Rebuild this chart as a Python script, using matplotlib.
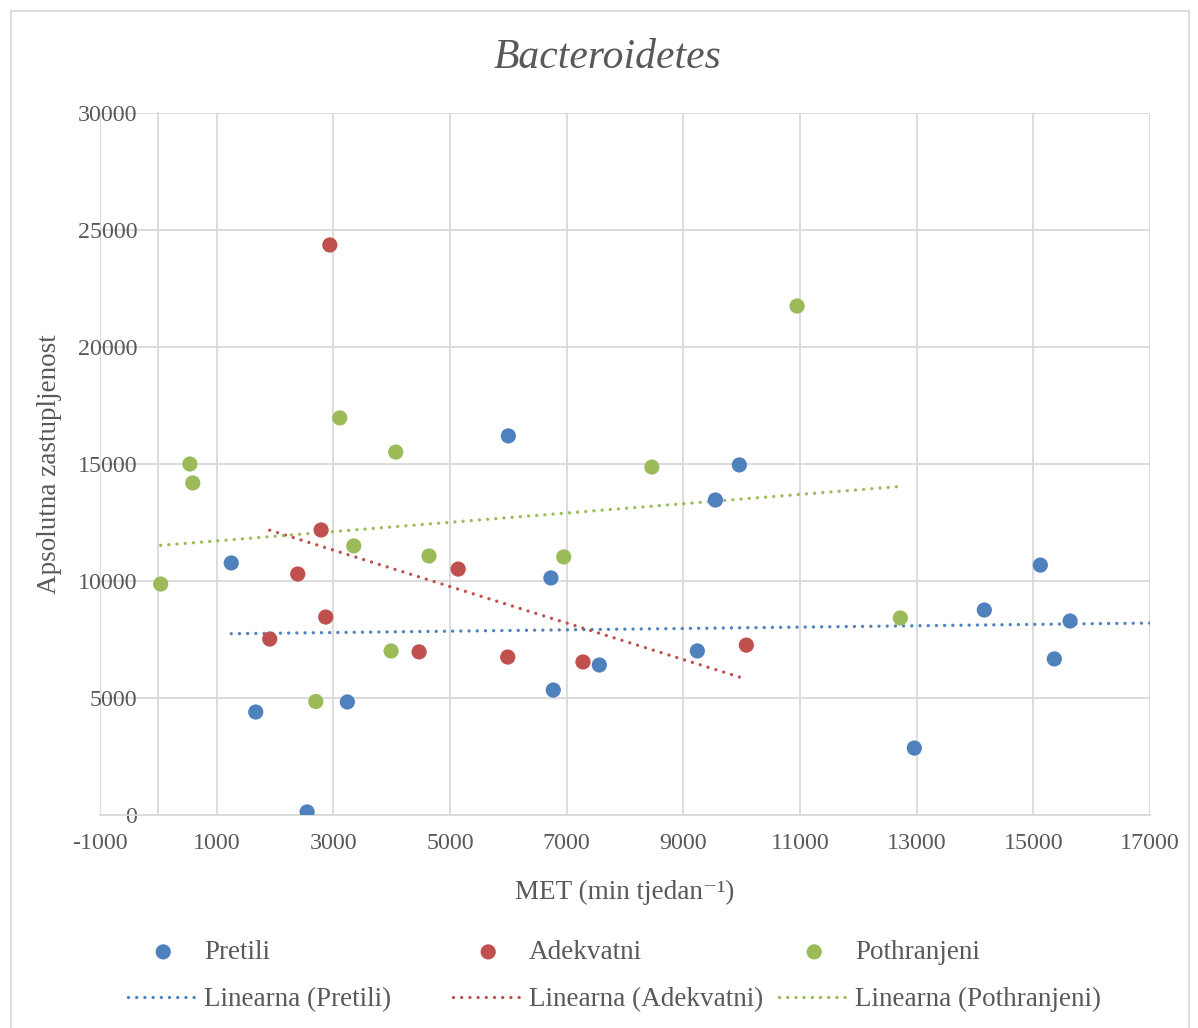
import numpy as np
import matplotlib
matplotlib.use("Agg")
import matplotlib.pyplot as plt
from matplotlib.patches import Rectangle

plt.rcParams['font.family'] = ['Liberation Serif', 'DejaVu Serif']
plt.rcParams['axes.unicode_minus'] = False

TEXT = '#595959'
GRID = '#D9D9D9'

# MET (min/tjedan) vs. absolutna zastupljenost, po skupinama
# (zadnja tocka Pretili lezi desno od 17000 pa se ne vidi na grafu)
pretili_x = [1250, 1670, 2550, 3240, 6000, 6730, 6770, 7560, 9240, 9550, 9960,
             12960, 14160, 15120, 15360, 15630, 21600]
pretili_y = [10770, 4400, 130, 4830, 16200, 10130, 5340, 6410, 7010, 13460, 14960,
             2860, 8760, 10680, 6670, 8290, 4800]

adekvatni_x = [1910, 2390, 2790, 2870, 2940, 4470, 5140, 5990, 7280, 10080]
adekvatni_y = [7520, 10300, 12180, 8460, 24360, 6970, 10510, 6750, 6540, 7260]

pothranjeni_x = [40, 540, 590, 2700, 3110, 3350, 3990, 4070, 4640, 6950, 8460,
                 10950, 12720]
pothranjeni_y = [9870, 15000, 14190, 4850, 16970, 11500, 7010, 15510, 11070, 11030,
                 14870, 21750, 8420]

series = [
    ('Pretili', pretili_x, pretili_y, '#4F81BD'),
    ('Adekvatni', adekvatni_x, adekvatni_y, '#C0504D'),
    ('Pothranjeni', pothranjeni_x, pothranjeni_y, '#9BBB59'),
]

x_ticks = np.arange(-1000, 17001, 2000)
y_ticks = np.arange(0, 30001, 5000)

fig = plt.figure(figsize=(11.98, 10.28), dpi=100)
ax = fig.add_axes([100 / 1198, 213 / 1028, 1050 / 1198, 702 / 1028])

handles = {}
for name, xs, ys, color in series:
    xs = np.array(xs, float)
    ys = np.array(ys, float)
    pts = ax.scatter(xs, ys, s=120, color=color, edgecolors='none', zorder=3)
    # linearni trend preko raspona podataka
    k, b = np.polyfit(xs, ys, 1)
    tx = np.array([xs.min(), xs.max()])
    ln, = ax.plot(tx, k * tx + b, color=color, lw=2.4,
                  linestyle=(0, (0.01, 2.45)), dash_capstyle='round', zorder=2)
    handles[name] = (pts, ln)

ax.set_xlim(-1000, 17000)
ax.set_ylim(0, 30000)
ax.set_xticks(x_ticks)
ax.set_yticks(y_ticks)
ax.grid(True, color=GRID, lw=1.3)
ax.set_axisbelow(True)
for s in ('top', 'right'):
    ax.spines[s].set_visible(False)
ax.spines['left'].set_position(('data', 0))
ax.spines['left'].set_color(GRID)
ax.spines['left'].set_linewidth(1.3)
ax.spines['bottom'].set_color(GRID)
ax.spines['bottom'].set_linewidth(1.3)
ax.tick_params(length=0, labelsize=17.3, labelcolor=TEXT)
ax.tick_params(axis='y', pad=15)
ax.tick_params(axis='x', pad=13)

ax.set_xlabel('MET (min tjedan\u207b\u00b9)', fontsize=19.5, color=TEXT)
ax.xaxis.set_label_coords(0.5, -0.093)
ax.set_ylabel('Apsolutna zastupljenost', fontsize=19.5, color=TEXT)
ax.yaxis.set_label_coords(-0.036, 0.5)

fig.text(608 / 1198, 1 - 58 / 1028, 'Bacteroidetes', fontsize=30, style='italic',
         color=TEXT, ha='center', va='center')

# legenda: tri stupca jednake sirine
col_left = [128, 453, 779]
for (name, *_), left in zip(series, col_left):
    pts, ln = handles[name]
    fig.legend([pts, ln], [name, 'Linearna (%s)' % name],
               loc='upper left', bbox_to_anchor=(left / 1198, 1 - 940 / 1028),
               frameon=False, fontsize=19.5, labelcolor=TEXT, scatterpoints=1,
               handlelength=2.6, handletextpad=0.2, labelspacing=0.82,
               borderpad=0, borderaxespad=0)

fig.patches.append(Rectangle((11 / 1198, -0.01), 1178 / 1198, 1 - 11 / 1028 + 0.01,
                             transform=fig.transFigure, fill=False,
                             edgecolor=GRID, lw=1.3))

fig.savefig('out.png', dpi=100)
